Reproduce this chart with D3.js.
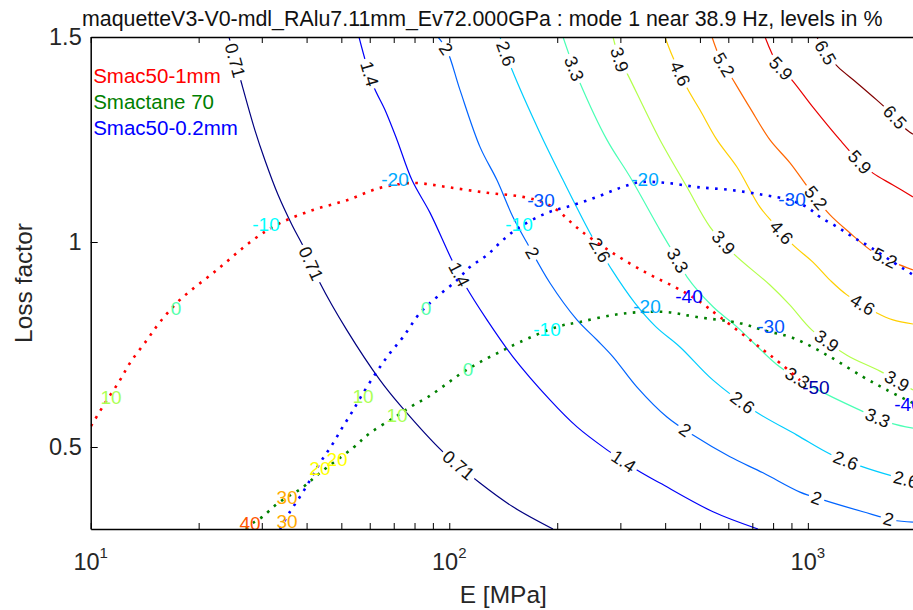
<!DOCTYPE html>
<html><head><meta charset="utf-8">
<script src="https://cdn.jsdelivr.net/npm/d3@7"></script>
<style>
html,body{margin:0;padding:0;background:#fff;overflow:hidden}
svg{display:block;font-family:"Liberation Sans",Arial,Helvetica,sans-serif}
</style></head><body>
<svg id="chart" width="913" height="610"></svg>
<script>
// ---------------- DATA ----------------
const titleText = "maquetteV3-V0-mdl_RAlu7.11mm_Ev72.000GPa : mode 1 near 38.9 Hz, levels in %";
const xLabelText = "E [MPa]";
const yLabelText = "Loss factor";

const xTicks = [10,20,30,40,50,60,70,80,90,100,200,300,400,500,600,700,800,900,1000,2000];
const xLabelValues = [10,100,1000];
const xLabelBase = ["10","10","10"];
const xLabelExp = ["1","2","3"];
const yTicks = [0.5,1,1.5];
const yTickLabels = ["0.5","1","1.5"];

const contourLevels = [0.71, 1.4, 2, 2.6, 3.3, 3.9, 4.6, 5.2, 5.9, 6.5];

// contour lines: [E (MPa), loss factor]
const contour071 = [[24.3,1.5],[26.1,1.4],[28.7,1.273],[30.6,1.2],[33.3,1.115],[36.4,1.042],[39.6,0.981],[43.6,0.9],[51.8,0.785],[64.1,0.663],[72.9,0.602],[96.0,0.488],[121.8,0.412],[150.5,0.354],[194.6,0.3]];
const contour14 = [[56.0,1.5],[61.3,1.383],[66.2,1.322],[71.5,1.249],[78.7,1.151],[88.4,1.071],[101.7,0.956],[110.6,0.895],[127.4,0.810],[150.5,0.720],[190.9,0.615],[227.1,0.549],[275.3,0.493],[333.8,0.444],[387,0.412],[543.9,0.342],[726,0.3]];
const contour20 = [[93.0,1.5],[98.5,1.468],[107.1,1.371],[121.8,1.232],[135.8,1.151],[150.5,1.061],[164.7,0.998],[190.9,0.9],[227.1,0.810],[258.2,0.761],[286.1,0.720],[333.8,0.646],[404.6,0.573],[478.3,0.529],[606.4,0.476],[749.8,0.437],[950.6,0.390],[1102,0.371],[1425,0.342],[1727,0.322],[1964,0.317]];
const contour26 = [[138.5,1.5],[149.6,1.420],[179.0,1.266],[207.6,1.151],[246.9,1.022],[263.2,0.981],[284.2,0.932],[329.5,0.851],[377.1,0.793],[439.9,0.744],[543.9,0.663],[703,0.590],[932.4,0.529],[1153,0.483],[1397,0.454],[1727,0.429],[1964,0.417]];
const contour33 = [[207.6,1.5],[217.1,1.451],[231.5,1.388],[275.3,1.249],[319.1,1.159],[387,1.029],[431.5,0.959],[460.1,0.915],[543.9,0.842],[634.3,0.793],[836,0.695],[1033,0.646],[1397,0.590],[1694,0.559],[1964,0.546]];
const contour39 = [[286.1,1.5],[299.2,1.444],[315.0,1.407],[351.4,1.322],[387,1.249],[460.1,1.134],[533.3,1.037],[618.1,0.973],[784,0.895],[891.6,0.846],[1027,0.785],[1285,0.724],[1589,0.685],[1964,0.639]];
const contour46 = [[399.5,1.5],[417.8,1.456],[460.1,1.376],[500.3,1.322],[557.9,1.249],[634.3,1.183],[735.3,1.085],[809.6,1.042],[908.8,0.993],[1033,0.951],[1153,0.907],[1285,0.871],[1558,0.827],[1727,0.810],[1964,0.8]];
const contour52 = [[540.4,1.5],[568.8,1.449],[614.3,1.4],[689.6,1.327],[784,1.249],[891.6,1.193],[1013,1.127],[1153,1.066],[1311,1.022],[1519,0.976],[1750,0.949],[1964,0.932]];
const contour59 = [[759.5,1.5],[825.3,1.432],[903.1,1.395],[1033,1.329],[1229,1.249],[1397,1.195],[1519,1.168],[1727,1.139],[1964,1.110]];
const contour65 = [[1060,1.5],[1123,1.461],[1213,1.427],[1371,1.388],[1558,1.346],[1727,1.310],[1890,1.273],[1964,1.263]];

// contour label anchor positions [E, loss factor]
const labels071 = [[25.1,1.442],[39.9,0.942],[105.1,0.451]];
const labels14 = [[58.2,1.407],[104.4,0.917],[303.1,0.459]];
const labels20 = [[94.2,1.461],[165.8,0.968],[448.5,0.534],[1053,0.371],[1673,0.320]];
const labels26 = [[140.3,1.456],[258.2,0.976],[646.5,0.600],[1261,0.456],[1866,0.412]];
const labels33 = [[218.5,1.420],[431.5,0.954],[926.4,0.663],[1548,0.561]];
const labels39 = [[301.1,1.446],[572.5,0.993],[1123,0.756],[1772,0.661]];
const labels46 = [[431.5,1.407],[836,1.020],[1425,0.849]];
const labels52 = [[568.8,1.427],[1033,1.102],[1641,0.961]];
const labels59 = [[825.3,1.417],[1379,1.190]];
const labels65 = [[1123,1.463],[1716,1.298]];

// material curves [E, loss factor]
const seriesNames = ["Smac50-1mm","Smactane 70","Smac50-0.2mm"];
const smac50_1mm = [[10.02,0.551],[10.96,0.607],[12.07,0.663],[12.87,0.705],[14.35,0.761],[15.61,0.805],[17.74,0.859],[22.50,0.932],[28.36,1.005],[33.72,1.046],[41.69,1.078],[51.84,1.102],[64.10,1.132],[79.21,1.144],[98.54,1.134],[127.4,1.120],[160.5,1.110],[184.9,1.095],[199.7,1.078],[231.5,1.029],[286.1,0.973],[355.9,0.924],[425.9,0.890],[490.6,0.859],[568.8,0.817],[749.8,0.737],[836,0.705],[950.6,0.663]];
const smactane70 = [[27.11,0.3],[28.36,0.315],[30.04,0.329],[33.30,0.363],[39.08,0.402],[43.58,0.437],[53.89,0.498],[60.10,0.534],[70.58,0.573],[78.70,0.6],[87.22,0.622],[97.27,0.651],[108.5,0.681],[121.8,0.707],[138.5,0.732],[157.5,0.756],[199.7,0.793],[231.5,0.805],[286.1,0.822],[340.3,0.829],[404.6,0.829],[490.6,0.817],[646.5,0.802],[749.8,0.785],[908.8,0.766],[1153,0.720],[1425,0.671],[1662,0.639],[1964,0.607]];
const smac50_02mm = [[33.72,0.3],[35.95,0.342],[39.08,0.390],[43.58,0.461],[47.09,0.505],[50.21,0.546],[53.54,0.585],[57.09,0.627],[63.27,0.688],[68.33,0.729],[74.30,0.768],[82.86,0.827],[92.42,0.866],[105.1,0.907],[114.2,0.939],[127.4,0.968],[141.2,1.005],[157.5,1.037],[187.3,1.071],[221.3,1.090],[258.2,1.110],[299.2,1.132],[340.3,1.146],[404.6,1.144],[490.6,1.134],[606.4,1.127],[749.8,1.115],[891.6,1.102],[994.2,1.085],[1081,1.061],[1206,1.037],[1336,1.012],[1490,0.988],[1694,0.956],[1964,0.920]];

// temperature labels on curves: [value, E, loss factor]
const tempSmac50_1mm = [[10,11.39,0.622],[0,17.29,0.839],[-10,30.82,1.044],[-20,70.58,1.154],[-30,180.2,1.102],[-40,466.1,0.868],[-50,1053,0.646]];
const tempSmactane70 = [[40,27.82,0.315],[30,35.27,0.378],[20,43.58,0.449],[10,71.5,0.578],[0,112.8,0.690],[-10,187.3,0.788],[-20,355.9,0.844],[-30,789.1,0.795],[-40,1902,0.605]];
const tempSmac50_02mm = [[30,35.27,0.320],[20,48.62,0.471],[10,57.45,0.624],[0,86.10,0.839],[-10,156.5,1.044],[-20,351.4,1.154],[-30,903.1,1.105]];

// ---------------- DRAWING ----------------
const contourLines = [contour071,contour14,contour20,contour26,contour33,contour39,contour46,contour52,contour59,contour65];
const contourLabelPos = [labels071,labels14,labels20,labels26,labels33,labels39,labels46,labels52,labels59,labels65];
const seriesData = [smac50_1mm, smactane70, smac50_02mm];
const seriesTemps = [tempSmac50_1mm, tempSmactane70, tempSmac50_02mm];
const seriesColors = ["#ff0000","#008000","#0000ff"];

const W = 913, H = 610;
const L = 90.7, R = 915.8, T = 37, B = 529;
const svg = d3.select("#chart");
const x = d3.scaleLog().domain([10,2000]).range([L,R]);
const y = d3.scaleLinear().domain([0.3,1.5]).range([B,T]);

function jet(t){
  const c = v => Math.max(0, Math.min(1, v));
  const r = c(Math.min(4*t-1.5, -4*t+4.5));
  const g = c(Math.min(4*t-0.5, -4*t+3.5));
  const b = c(Math.min(4*t+0.5, -4*t+2.5));
  return d3.rgb(r*255, g*255, b*255).formatHex();
}
const lmin = d3.min(contourLevels), lmax = d3.max(contourLevels);
const levelColor = v => jet((v - lmin)/(lmax - lmin));
const tempColor = v => jet((v + 55)/120);

const defs = svg.append("defs");
defs.append("clipPath").attr("id","plotClip").append("rect")
  .attr("x",L).attr("y",T).attr("width",R-L).attr("height",B-T);
const mask = defs.append("mask").attr("id","labelMask").attr("maskUnits","userSpaceOnUse")
  .attr("x",0).attr("y",0).attr("width",W).attr("height",H);
mask.append("rect").attr("width",W).attr("height",H).attr("fill","white");

const line = d3.line().x(d=>x(d[0])).y(d=>y(d[1])).curve(d3.curveCatmullRom.alpha(0.5));

// contour lines
const contourG = svg.append("g").attr("clip-path","url(#plotClip)")
  .append("g").attr("mask","url(#labelMask)");
contourLines.forEach((pts,i)=>{
  contourG.append("path").attr("d",line(pts)).attr("fill","none")
    .attr("stroke",levelColor(contourLevels[i])).attr("stroke-width",1.2);
});

function placeOnPath(ptsPx, p){
  let best = null;
  for (let i=0;i<ptsPx.length-1;i++){
    const a=ptsPx[i], b=ptsPx[i+1];
    const dx=b[0]-a[0], dy=b[1]-a[1];
    const L2=dx*dx+dy*dy;
    let t=((p[0]-a[0])*dx+(p[1]-a[1])*dy)/L2; t=Math.max(0,Math.min(1,t));
    const q=[a[0]+t*dx,a[1]+t*dy];
    const d=Math.hypot(q[0]-p[0],q[1]-p[1]);
    if(!best||d<best.d) best={d,q,ang:Math.atan2(dy,dx)};
  }
  let ang = best.ang*180/Math.PI;
  if (ang>90) ang-=180; if (ang<-90) ang+=180;
  return {x:best.q[0], y:best.q[1], ang};
}

// contour labels
const labelG = svg.append("g");
contourLabelPos.forEach((arr,i)=>{
  const ptsPx = contourLines[i].map(d=>[x(d[0]),y(d[1])]);
  arr.forEach(p=>{
    const pl = placeOnPath(ptsPx,[x(p[0]),y(p[1])]);
    const tr = `translate(${pl.x},${pl.y}) rotate(${pl.ang})`;
    const t = labelG.append("text").attr("transform",tr)
      .attr("text-anchor","middle").attr("dy","0.36em")
      .attr("font-size",18).attr("fill","#111").text(String(contourLevels[i]));
    const w = t.node().getComputedTextLength();
    mask.append("rect").attr("transform",tr)
      .attr("x",-w/2-3).attr("y",-8).attr("width",w+6).attr("height",16).attr("fill","black");
  });
});

// dotted material curves
const curveG = svg.append("g").attr("clip-path","url(#plotClip)");
seriesData.forEach((pts,i)=>{
  curveG.append("path").attr("d",line(pts)).attr("fill","none")
    .attr("stroke",seriesColors[i]).attr("stroke-width",2.6)
    .attr("stroke-dasharray","2.6 6.4");
});

// temperature labels
const tempG = svg.append("g");
seriesTemps.forEach(arr=>{
  arr.forEach(d=>{
    tempG.append("text").attr("x",x(d[1])).attr("y",y(d[2]))
      .attr("text-anchor","middle").attr("dy","0.36em")
      .attr("font-size",19).attr("fill",tempColor(d[0])).text(String(d[0]));
  });
});

// axes
function styleAxis(g){
  g.select(".domain").attr("stroke","#000").attr("stroke-width",1.5);
  g.selectAll(".tick line").attr("stroke","#000").attr("stroke-width",1);
}
svg.append("g").attr("transform",`translate(0,${B})`)
  .call(d3.axisBottom(x).tickValues(xTicks).tickSize(-6).tickSizeOuter(0).tickFormat(""))
  .call(styleAxis);
svg.append("g").attr("transform",`translate(0,${T})`)
  .call(d3.axisTop(x).tickValues(xTicks).tickSize(-6).tickSizeOuter(0).tickFormat(""))
  .call(styleAxis);
const yAx = svg.append("g").attr("transform",`translate(${L},0)`)
  .call(d3.axisLeft(y).tickValues(yTicks).tickSize(-7).tickSizeOuter(0).tickPadding(9)
    .tickFormat((d,i)=>yTickLabels[i]))
  .call(styleAxis);
yAx.selectAll(".tick text").attr("font-size",23.5).attr("fill","#262626")
  .attr("font-family",'"Liberation Sans", Arial, sans-serif');

// x tick labels with exponents
xLabelValues.forEach((v,i)=>{
  const t = svg.append("text").attr("x",x(v)).attr("y",570).attr("text-anchor","middle")
    .attr("font-size",23.5).attr("fill","#262626");
  t.append("tspan").text(xLabelBase[i]);
  t.append("tspan").attr("dy",-12).attr("font-size",15).text(xLabelExp[i]);
});

// axis labels
svg.append("text").attr("x",(L+R)/2).attr("y",603).attr("text-anchor","middle")
  .attr("font-size",24.5).attr("fill","#262626").text(xLabelText);
svg.append("text").attr("transform",`translate(32,${(T+B)/2}) rotate(-90)`)
  .attr("text-anchor","middle").attr("font-size",24.5).attr("fill","#262626").text(yLabelText);

// legend (text labels)
const legendY = [83,109,135];
seriesNames.forEach((n,i)=>{
  svg.append("text").attr("x",L+2.5).attr("y",legendY[i]).attr("font-size",20.5)
    .attr("fill",seriesColors[i]).text(n);
});

// title
const title = svg.append("text").attr("x",82).attr("y",26).attr("font-size",21)
  .attr("fill","#111").text(titleText);
const tl = title.node().getComputedTextLength();
title.attr("font-size", 21*801/tl);
</script></body></html>
